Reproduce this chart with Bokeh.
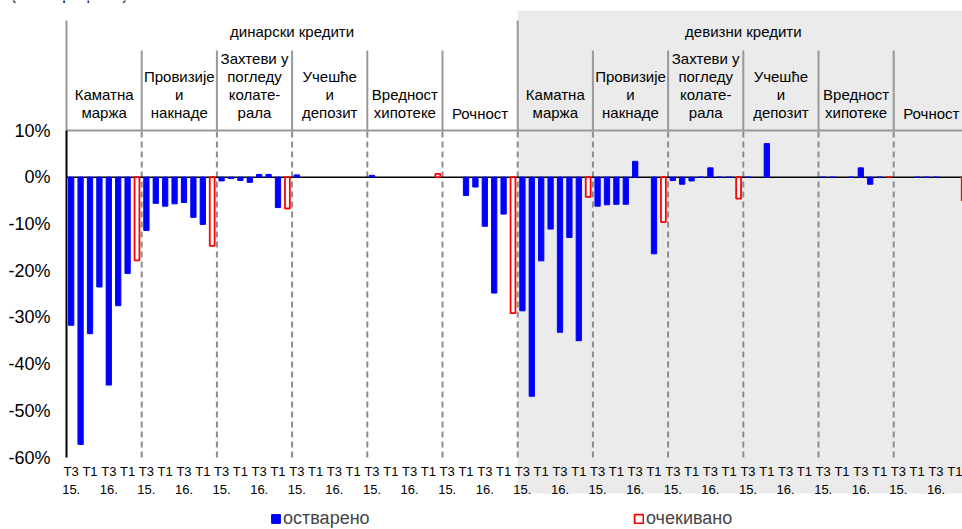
import math
from bokeh.plotting import figure
from bokeh.models import (ColumnDataSource, FixedTicker, LinearAxis, PrintfTickFormatter,
                          Legend, LegendItem, Range1d)
from bokeh.core.properties import value
from bokeh.embed import file_html
from bokeh.resources import INLINE

# ---------------- data ----------------
sections = ["динарски кредити", "девизни кредити"]
factors = ["Каматна\nмаржа", "Провизије\nи\nнакнаде", "Захтеви у\nпогледу\nколате-\nрала",
           "Учешће\nи\nдепозит", "Вредност\nхипотеке", "Рочност"]
quarter_labels = ["Т3", "Т1", "Т3", "Т1"]      # on slots 0, 2, 4, 6 of each factor
year_labels = ["15.", "16."]                    # on slots 0, 4 of each factor
subtitle = "(нето проценат)"

# realized (7 quarters) per factor, dinar loans
din_realized = [
    [-31.7, -57.2, -33.5, -23.5, -44.5, -27.5, -20.6],
    [-11.4, -5.6, -6.2, -5.7, -5.4, -8.6, -10.1],
    [-0.8, -0.3, -0.7, -1.1, 0.6, 0.6, -6.5],
    [0.5, None, None, None, None, None, None],
    [0.4, None, None, None, None, None, None],
    [None, None, -3.9, -2.1, -10.5, -24.8, -7.9],
]
din_expected = [-17.8, -14.7, -6.7, None, 0.7, -29.1]

# realized per factor, foreign currency loans
dev_realized = [
    [-28.6, -46.9, -17.9, -11.1, -33.2, -12.9, -35.0],
    [-6.2, -5.9, -5.8, -5.8, 3.4, None, -16.4],
    [-0.7, -1.5, -0.8, 0.0, 2.0, 0.0, 0.0],
    [0.0, None, 7.2, None, None, None, None],
    [0.0, 0.0, None, 0.0, 2.0, -1.5, 0.0],
    [None, None, 0.0, 0.0, 0.0, None, None],
]
dev_expected = [-4.2, -9.6, -4.6, None, 0.0, -5.0]

y_ticks = [-60, -50, -40, -30, -20, -10, 0, 10]

# ---------------- geometry ----------------
W, H = 962, 529
SLOTS = 8
NG = 12
SLOT_PX = 9.4
X_LEFT = -0.5 - 66 / SLOT_PX
X_RIGHT = X_LEFT + W / SLOT_PX
PPU = 327 / 70.0          # px per percentage point
FRAME_TOP_PX = 130
Y_TOP = 10 + FRAME_TOP_PX / PPU
Y_BOT = Y_TOP - H / PPU


def cy(px):
    return Y_TOP - px / PPU


def cx(px):
    return X_LEFT + px / SLOT_PX


def nz(v):
    return float("nan") if v is None else v


all_realized = din_realized + dev_realized
all_expected = din_expected + dev_expected

bx, btop = [], []
for g, vals in enumerate(all_realized):
    for s, v in enumerate(vals):
        bx.append(g * SLOTS + s)
        btop.append(nz(v))
rx, rtop = [], []
for g, v in enumerate(all_expected):
    rx.append(g * SLOTS + 7)
    rtop.append(nz(v))

blue_src = ColumnDataSource(dict(x=bx, top=btop))
red_src = ColumnDataSource(dict(x=rx, top=rtop))

p = figure(width=W, height=H, x_range=Range1d(X_LEFT, X_RIGHT), y_range=Range1d(Y_BOT, Y_TOP),
           output_backend="svg", toolbar_location=None, x_axis_type=None,
           min_border_left=0, min_border_right=0, min_border_top=0, min_border_bottom=0)
p.xgrid.visible = False
p.ygrid.visible = False
p.outline_line_color = None
p.background_fill_color = "white"

FONT = value("Liberation Sans")
GRAY_BG = "#EBEBEB"
LINE_GRAY = "#999999"
DASH_GRAY = "#8C8C8C"
X0 = -0.5
X_END = X_RIGHT + 5

# shaded region for foreign-currency loans
mid = 6 * SLOTS - 0.5
p.quad(left=[mid], right=[X_END], top=[cy(10)], bottom=[cy(493)],
       fill_color=GRAY_BG, line_color=None)

# header lines
bounds = [g * SLOTS - 0.5 for g in range(NG)]
p.segment(x0=[X0, mid], x1=[X0, mid], y0=[cy(20)] * 2, y1=[10, 10],
          line_color=LINE_GRAY, line_width=2)
inner = [b for b in bounds[1:] if b != mid]
p.segment(x0=inner, x1=inner, y0=[cy(50)] * len(inner), y1=[10] * len(inner),
          line_color=LINE_GRAY, line_width=2)
# dashed separators within the plot
sep = bounds[1:]
p.segment(x0=sep, x1=sep, y0=[-60] * len(sep), y1=[10] * len(sep),
          line_color=DASH_GRAY, line_width=2, line_dash="6 4")
# top line at 10%
p.segment(x0=[X0], x1=[X_END], y0=[10], y1=[10], line_color=LINE_GRAY, line_width=2)

# subtitle (clipped at the top edge as in the original)
p.text(x=[cx(10)], y=[cy(2)], text=[subtitle], text_align="left",
       text_baseline="bottom", text_font=FONT, text_font_size="16px",
       text_color="black")

# header texts
p.text(x=[(X0 + mid) / 2, (mid + NG * SLOTS - 0.5) / 2], y=[cy(31)] * 2, text=sections,
       text_align="center", text_baseline="middle", text_font=FONT,
       text_font_size="15px", text_color="black")
fx = [g * SLOTS + 3.5 for g in range(NG)]
p.text(x=fx, y=[cy(121)] * NG, text=factors * 2, text_align="center",
       text_baseline="bottom", text_font=FONT, text_font_size="15px",
       text_line_height=1.07, text_color="black")

# zero line
p.segment(x0=[X0], x1=[X_END], y0=[0], y1=[0], line_color="black", line_width=1.5)

# bars
r_blue = p.vbar(x="x", top="top", bottom=0, width=0.56, source=blue_src,
                fill_color="#0000FF", line_color="#0000FF", line_width=1)
r_red = p.vbar(x="x", top="top", bottom=0, width=0.52, source=red_src,
               fill_color="white", line_color="#FF0000", line_width=1.8)

# y axis (drawn at the left edge of the bars)
ya = p.yaxis[0]
ya.fixed_location = X0
ya.ticker = FixedTicker(ticks=y_ticks)
ya.formatter = PrintfTickFormatter(format="%d%%")
ya.bounds = (-60, 10)
ya.axis_line_color = "black"
ya.axis_line_width = 2
ya.major_tick_line_color = None
ya.minor_tick_line_color = None
ya.major_tick_out = 0
ya.major_tick_in = 0
ya.minor_tick_out = 0
ya.major_label_standoff = 16
ya.major_label_text_font = "Liberation Sans"
ya.major_label_text_font_size = "18px"
ya.major_label_text_color = "black"

# x axes (quarters and years)
q_ticks, q_over = [], {}
y_ticks_x, y_over = [], {}
for g in range(NG):
    for k, s in enumerate([0, 2, 4, 6]):
        t = g * SLOTS + s
        q_ticks.append(t)
        q_over[t] = quarter_labels[k]
    for k, s in enumerate([0, 4]):
        t = g * SLOTS + s
        y_ticks_x.append(t)
        y_over[t] = year_labels[k]

for ticks, over, standoff in [(q_ticks, q_over, 6), (y_ticks_x, y_over, 27)]:
    ax = LinearAxis(ticker=FixedTicker(ticks=ticks), major_label_overrides=over,
                    fixed_location=-60, axis_line_color=None,
                    major_tick_line_color=None, minor_tick_line_color=None,
                    major_tick_out=0, major_tick_in=0, minor_tick_out=0,
                    major_label_standoff=standoff,
                    major_label_text_font="Liberation Sans",
                    major_label_text_font_size="13px",
                    major_label_text_color="black")
    p.add_layout(ax, "below")

# legends
for rend, lab, xloc in [(r_blue, "остварено", 270), (r_red, "очекивано", 633)]:
    lg = Legend(items=[LegendItem(label=lab, renderers=[rend])], location=(xloc, 0),
                orientation="horizontal", glyph_width=11, glyph_height=11,
                label_standoff=2, padding=0, margin=0, spacing=0,
                border_line_color=None, background_fill_alpha=0,
                label_text_font="Liberation Sans", label_text_font_size="18px",
                label_height=11)
    p.add_layout(lg)

open("out.html", "w").write(file_html(p, INLINE))
